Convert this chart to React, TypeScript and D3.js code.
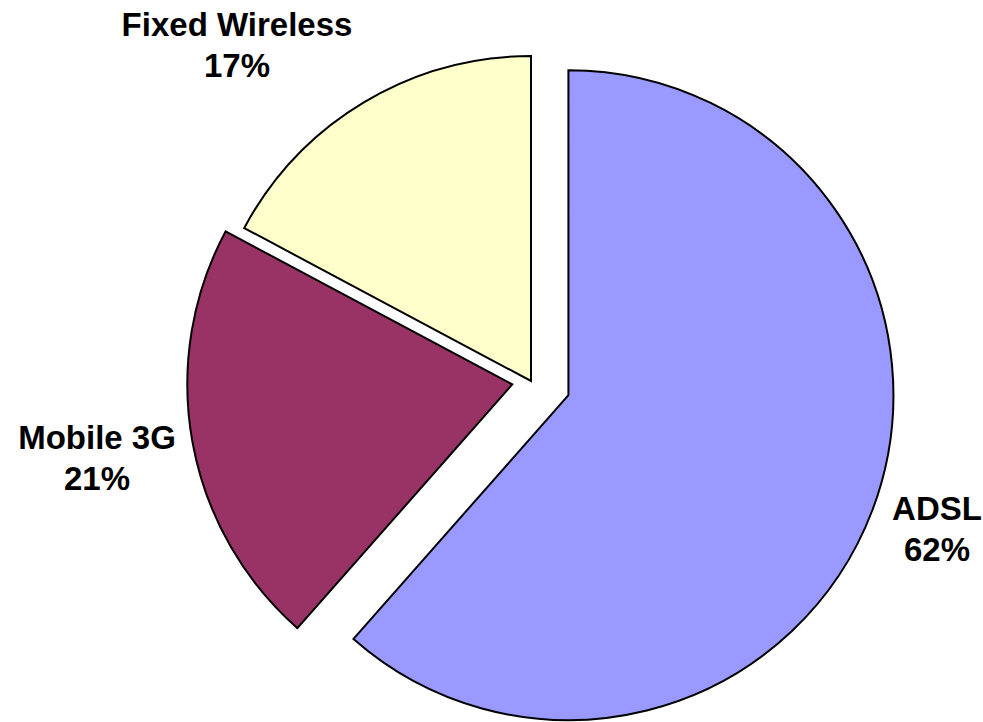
import React from "react";
import * as d3 from "d3";

const categories = ["ADSL", "Mobile 3G", "Fixed Wireless"];
const values = [61.5, 21.3, 17.2];
const percentLabels = ["62%", "21%", "17%"];

const colors = ["#9999FF", "#993366", "#FFFFCC"];
const explode = [40, 19, 0];
const labelPos: [number, number][] = [
  [937, 520],
  [97, 449],
  [237, 36],
];

const W = 983;
const H = 722;
const cx = 531;
const cy = 381;
const R = 325;

export default function App() {
  const pie = d3
    .pie<number>()
    .sort(null)
    .value((d) => d)
    .startAngle(0)
    .endAngle(2 * Math.PI);
  const arcs = pie(values);
  const arc = d3.arc<d3.PieArcDatum<number>>().innerRadius(0).outerRadius(R);

  return (
    <svg
      width={W}
      height={H}
      style={{ position: "absolute", left: 0, top: 0, background: "#fff" }}
    >
      <g transform={`translate(${cx},${cy})`}>
        {arcs.map((a, i) => {
          const mid = (a.startAngle + a.endAngle) / 2;
          const dx = explode[i] * Math.sin(mid);
          const dy = -explode[i] * Math.cos(mid);
          return (
            <path
              key={i}
              d={arc(a) || ""}
              transform={`translate(${dx},${dy})`}
              fill={colors[i]}
              stroke="#000"
              strokeWidth={2}
              strokeLinejoin="miter"
            />
          );
        })}
      </g>
      {categories.map((c, i) => (
        <text
          key={c}
          x={labelPos[i][0]}
          y={labelPos[i][1]}
          textAnchor="middle"
          fontFamily="'Liberation Sans', Arial, Helvetica, sans-serif"
          fontWeight="bold"
          fontSize={33}
          fill="#000"
        >
          <tspan x={labelPos[i][0]}>{c}</tspan>
          <tspan x={labelPos[i][0]} dy={41}>
            {percentLabels[i]}
          </tspan>
        </text>
      ))}
    </svg>
  );
}
